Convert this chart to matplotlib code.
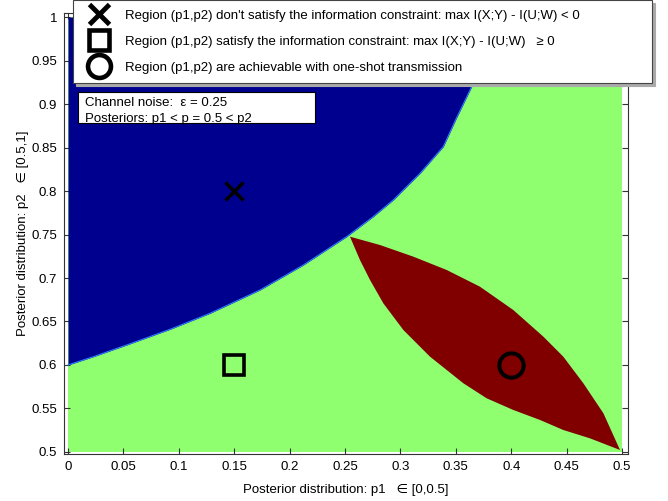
import matplotlib
matplotlib.use('Agg')
import matplotlib.pyplot as plt
from matplotlib.lines import Line2D
from matplotlib.patches import Rectangle

plt.rcParams['font.family'] = ['Liberation Sans', 'DejaVu Sans']

# ---------------- data ----------------
p1_range = [0.0, 0.5]
p2_range = [0.5, 1.0]

# boundary of the region that does not satisfy the constraint (blue)
blue_p2 = [0.600, 0.6095, 0.623, 0.641, 0.6594, 0.6862, 0.7149, 0.7475, 0.7705,
           0.7897, 0.8203, 0.8509, 0.8828, 0.9238, 1.000]
blue_p1 = [0.000, 0.0228, 0.053, 0.0921, 0.1282, 0.1733, 0.2124, 0.2515, 0.2755,
           0.2936, 0.3177, 0.3387, 0.3502, 0.3658, 0.385]

# one-shot achievable region (red lens): upper and lower arcs
red_upper_p1 = [0.2545, 0.2816, 0.3117, 0.3418, 0.3718, 0.4019, 0.4290, 0.4470,
                0.4651, 0.4832, 0.4982]
red_upper_p2 = [0.7475, 0.7379, 0.7245, 0.7092, 0.6900, 0.6632, 0.6326, 0.6096,
                0.5790, 0.5445, 0.5023]
red_lower_p1 = [0.2545, 0.2635, 0.2726, 0.2846, 0.3027, 0.3267, 0.3568, 0.3779,
                0.4019, 0.4260, 0.4470, 0.4711, 0.4982]
red_lower_p2 = [0.7475, 0.7207, 0.6977, 0.6709, 0.6402, 0.6096, 0.5790, 0.5617,
                0.5483, 0.5368, 0.5253, 0.5157, 0.5023]

# example points
pt_x = (0.15, 0.80)
pt_square = (0.15, 0.60)
pt_circle = (0.40, 0.60)

xticks = [0, 0.05, 0.1, 0.15, 0.2, 0.25, 0.3, 0.35, 0.4, 0.45, 0.5]
xticklabels = ['0', '0.05', '0.1', '0.15', '0.2', '0.25', '0.3', '0.35', '0.4', '0.45', '0.5']
yticks = [0.5, 0.55, 0.6, 0.65, 0.7, 0.75, 0.8, 0.85, 0.9, 0.95, 1.0]
yticklabels = ['0.5', '0.55', '0.6', '0.65', '0.7', '0.75', '0.8', '0.85', '0.9', '0.95', '1']

legend_labels = [
    "Region (p1,p2) don't satisfy the information constraint: max I(X;Y) - I(U;W) < 0",
    "Region (p1,p2) satisfy the information constraint: max I(X;Y) - I(U;W)   \u2265 0",
    "Region (p1,p2) are achievable with one-shot transmission",
]
info_lines = ["Channel noise:  \u03b5 = 0.25", "Posteriors: p1 < p = 0.5 < p2"]

NAVY = '#00008F'
GREEN = '#8FFF70'
RED = '#800000'
FS = 9.5

# ---------------- figure ----------------
fig = plt.figure(figsize=(6.68, 5.01), dpi=100)
ax = fig.add_axes([64 / 668, 47 / 501, 564 / 668, 441 / 501])

# green background region
ax.fill_between(p1_range, p2_range[0], p2_range[1], color=GREEN, lw=0, zorder=1)
# blue region
ax.fill_betweenx(blue_p2, 0, blue_p1, color=NAVY, lw=0, zorder=2)
ax.plot(blue_p1, blue_p2, color='#2a7fff', lw=0.8, zorder=2.5)
# red lens
ax.fill(red_upper_p1 + red_lower_p1[::-1], red_upper_p2 + red_lower_p2[::-1],
        color=RED, lw=0, zorder=3)

# markers
ax.plot(*pt_x, marker='x', ms=13, mew=2.5, color='black', ls='none', zorder=5)
ax.plot(*pt_square, marker='s', ms=14.5, mew=2.6, mfc='none', color='black', ls='none', zorder=5)
ax.plot(*pt_circle, marker='o', ms=17.5, mew=2.9, mfc='none', color='black', ls='none', zorder=5)

ax.set_xlim(-0.0036, 0.5054)
ax.set_ylim(0.4977, 1.0046)
ax.set_xticks(xticks)
ax.set_xticklabels(xticklabels)
ax.set_yticks(yticks)
ax.set_yticklabels(yticklabels)
ax.tick_params(direction='in', length=4, width=0.8, top=True, right=True,
               labelsize=FS, pad=5, color='#333333')
for s in ax.spines.values():
    s.set_linewidth(0.8)
    s.set_color('#333333')

ax.set_xlabel("Posterior distribution: p1   \u2208 [0,0.5]", fontsize=FS, labelpad=8)
ax.set_ylabel("Posterior distribution: p2   \u2208 [0.5,1]", fontsize=FS, labelpad=1.5)

# info box
ax.add_patch(Rectangle((0.0248, 0.751), 0.420, 0.070, transform=ax.transAxes,
                       facecolor='white', edgecolor='black', lw=0.8, zorder=6))
ax.text(0.0372, 0.795, info_lines[0], transform=ax.transAxes, fontsize=FS,
        va='center', ha='left', zorder=7)
ax.text(0.0372, 0.759, info_lines[1], transform=ax.transAxes, fontsize=FS,
        va='center', ha='left', zorder=7)

# legend
handles = [
    Line2D([], [], marker='x', ms=14, mew=3.5, color='black', ls='none'),
    Line2D([], [], marker='s', ms=14, mew=3.3, mfc='none', color='black', ls='none'),
    Line2D([], [], marker='o', ms=16.5, mew=3.3, mfc='none', color='black', ls='none'),
]
leg = fig.legend(handles, legend_labels, loc='upper left',
                 bbox_to_anchor=(73 / 668, 419 / 501, 579 / 668, 82 / 501),
                 mode='expand', borderaxespad=0, fontsize=FS, frameon=True,
                 fancybox=False, edgecolor='#444444', framealpha=1,
                 handlelength=2.49, handletextpad=0.72, labelspacing=1.05,
                 borderpad=0.72, shadow={'color': '#aaaaaa', 'alpha': 1})
leg.get_frame().set_linewidth(0.8)
leg.set_zorder(10)

fig.savefig('out.png', dpi=100)
